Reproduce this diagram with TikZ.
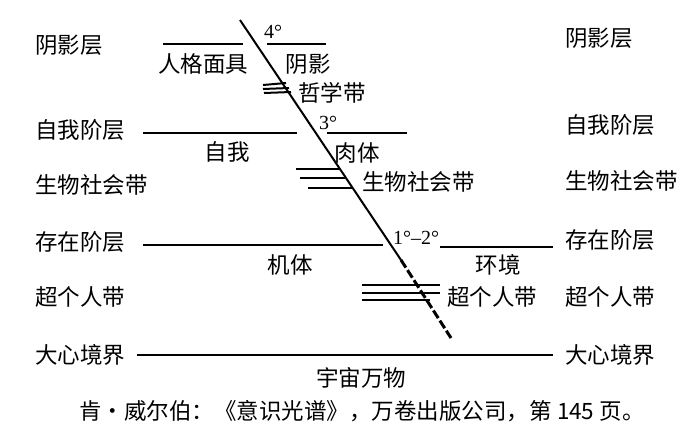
\documentclass[tikz,border=0pt]{standalone}
\usepackage{fontspec}
\setmainfont{Liberation Serif}
\newfontfamily\cjk{Noto Sans CJK SC}
\usetikzlibrary{positioning}

\tikzset{
  lbl/.style={font=\cjk\fontsize{22.5}{26}\selectfont, inner sep=0pt},
  deg/.style={font=\fontsize{20}{24}\selectfont, inner sep=0pt},
  lvl/.style={line width=2pt},
  band/.style={line width=2pt},
  axis/.style={line width=2pt}
}

\begin{document}
\begin{tikzpicture}[x=1pt, y=-1pt]
\useasboundingbox (0,0) rectangle (700,440);

% left column
\node[lbl, anchor=west] (shadowL) at (35,45) {阴影层};
\node[lbl, anchor=west] (egoL) at (35,130) {自我阶层};
\node[lbl, anchor=west] (bioL) at (35,185) {生物社会带};
\node[lbl, anchor=west] (existL) at (35,242) {存在阶层};
\node[lbl, anchor=west] (transL) at (35,297) {超个人带};
\node[lbl, anchor=west] (mindL) at (35,355) {大心境界};

% right column
\node[lbl, anchor=west] (shadowR) at (565,38) {阴影层};
\node[lbl, anchor=west] (egoR) at (565,125) {自我阶层};
\node[lbl, anchor=west] (bioR) at (565,181) {生物社会带};
\node[lbl, anchor=west] (existR) at (565,240) {存在阶层};
\node[lbl, anchor=west] (transR) at (565,297) {超个人带};
\node[lbl, anchor=west] (mindR) at (565,355) {大心境界};

% the slanted axis
\coordinate (top) at (240,20);
\coordinate (mid) at (401,260);
\coordinate (bot) at (451,338);
\draw[axis] (top) -- (mid);
\draw[axis, line width=3pt, dash pattern=on 9pt off 3pt] (mid) -- (bot);

% level 4
\draw[lvl] (163,44) to (243,44);
\draw[lvl] (267,44) to (326,44);
\node[deg] (d4) at (273,32) {4°};
\node[lbl] (persona) at (203,64) {人格面具};
\node[lbl] (shadow) at (308,64) {阴影};

% philosophical band
\draw[band] (263,85) to (286,83);
\draw[band] (263,89) to (289,88);
\draw[band] (264,93) to (291,92);
\node[lbl, anchor=west] (philo) at (298,93) {哲学带};

% level 3
\draw[lvl] (143,133) to (297,133);
\draw[lvl] (327,133) to (407,133);
\node[deg] (d3) at (328,123) {3°};
\node[lbl] (ego) at (227,152) {自我};
\node[lbl] (body) at (357,153) {肉体};

% biosocial band
\draw[band] (296,169) to (340,169);
\draw[band] (300,178) to (345,178);
\draw[band] (308,188) to (352,188);
\node[lbl, anchor=west] (bio) at (362,182) {生物社会带};

% level 1-2
\draw[lvl] (143,245) to (383,245);
\draw[lvl] (440,247) to (553,247);
\node[deg] (d12) at (416,238) {1°–2°};
\node[lbl] (organism) at (290,265) {机体};
\node[lbl] (env) at (498,265) {环境};

% transpersonal band
\draw[band] (362,285) to (440,285);
\draw[band] (362,293) to (440,293);
\draw[band] (362,300) to (430,300);
\node[lbl, anchor=west] (trans) at (447,297) {超个人带};

% level 0
\draw[lvl] (137,355) to (553,355);
\node[lbl] (cosmos) at (361,378) {宇宙万物};

% source
\node[lbl] (src) at (362,411) {肯・威尔伯：《意识光谱》，万卷出版公司，第 145 页。};
\end{tikzpicture}
\end{document}
